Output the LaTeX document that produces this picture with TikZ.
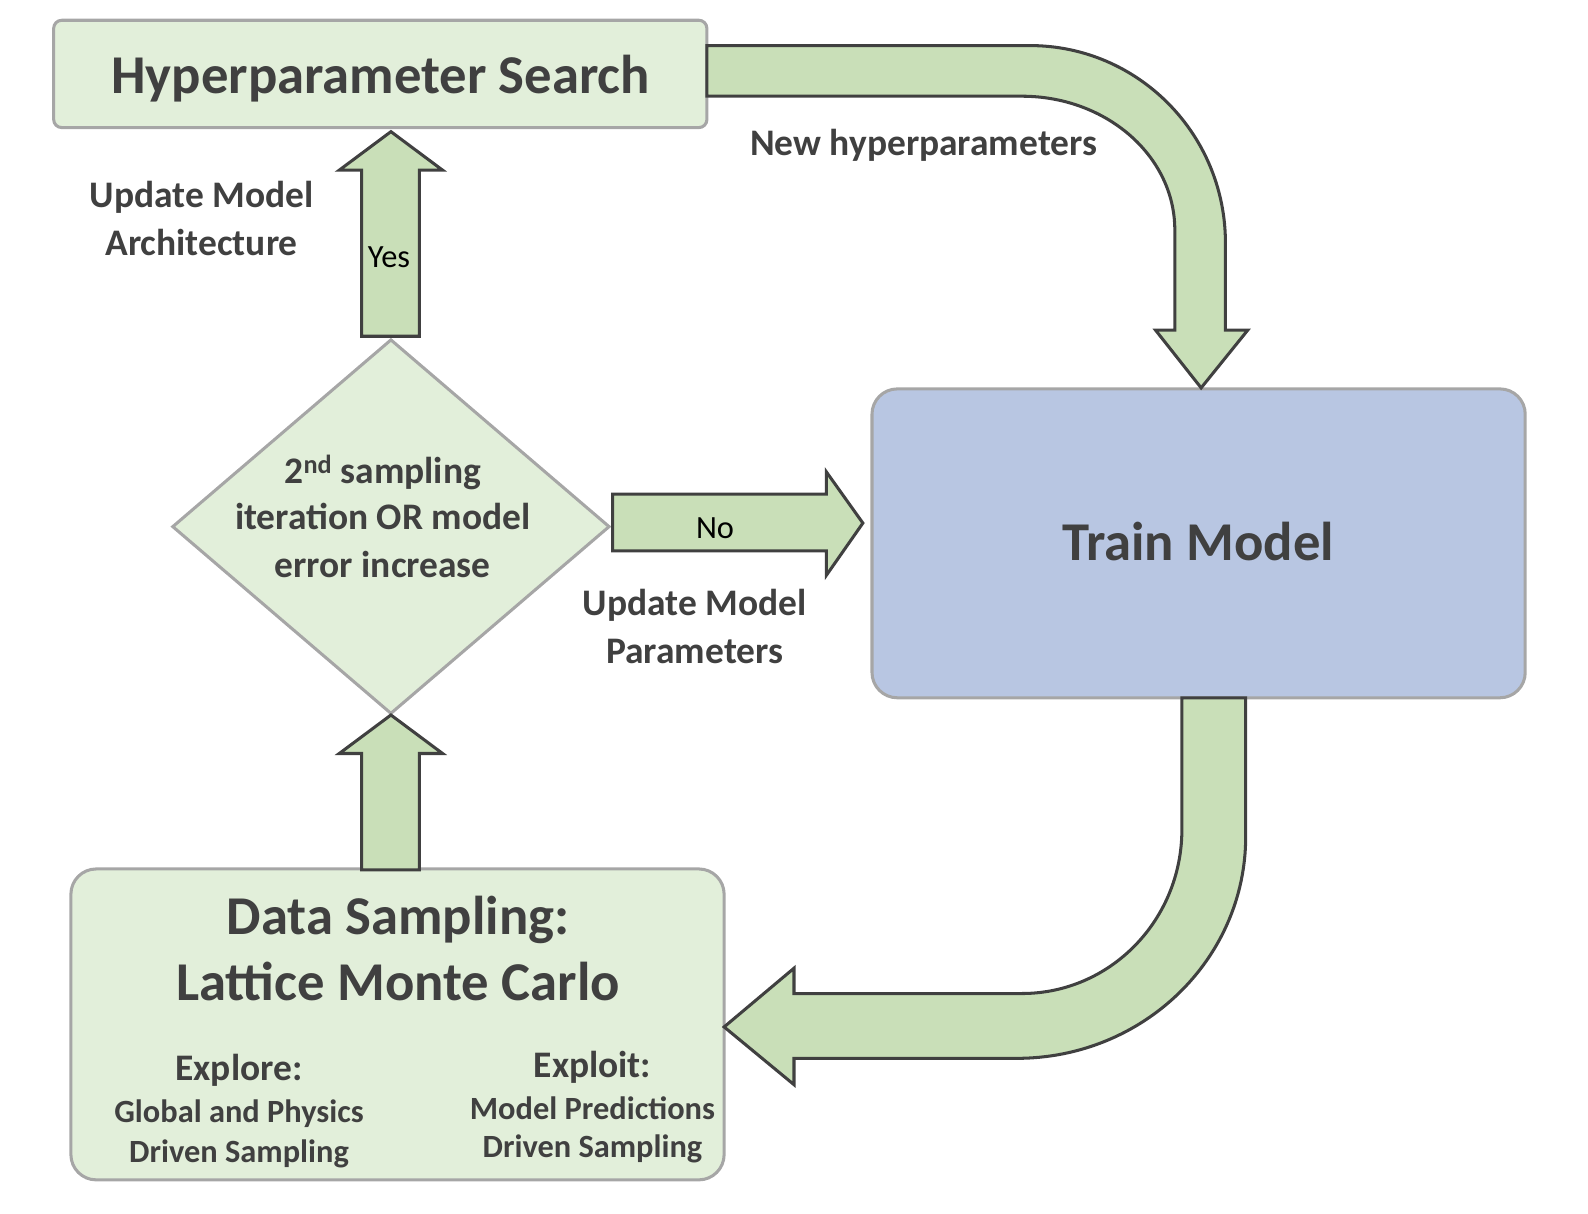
\documentclass[tikz,border=0pt]{standalone}
\usepackage{fontspec}
\setmainfont{Carlito}
\usetikzlibrary{shapes.geometric}
\definecolor{lightg}{RGB}{226,239,218}
\definecolor{arrowg}{RGB}{201,223,184}
\definecolor{bluec}{RGB}{184,198,226}
\definecolor{bordergray}{RGB}{166,166,166}
\definecolor{outlinec}{RGB}{64,64,64}
\definecolor{txtc}{RGB}{64,64,64}
\begin{document}
\begin{tikzpicture}[x=1pt,y=-1pt,
  txt/.style={text=txtc, inner sep=0pt, anchor=base},
  big/.style={txt, font=\fontsize{54}{64}\selectfont\bfseries},
  lab/.style={txt, font=\fontsize{37}{45}\selectfont\bfseries},
  small/.style={txt, font=\fontsize{32}{38}\selectfont\bfseries},
  arrlab/.style={text=black, inner sep=0pt, anchor=base, font=\fontsize{32}{38}\selectfont},
  blockarrow/.style={draw=outlinec, line width=3pt, fill=arrowg, line join=miter},
  greybox/.style={draw=bordergray, line width=3pt, inner sep=0pt}
]
\useasboundingbox (0,0) rectangle (1568,1198);

% boxes
\node[greybox, fill=lightg, rounded corners=8pt, minimum width=645pt, minimum height=106pt] (hyp) at (375.5,73) {};
\node[greybox, fill=bluec, rounded corners=25pt, minimum width=645pt, minimum height=305pt] (train) at (1183.5,536.5) {};
\node[greybox, fill=lightg, rounded corners=25pt, minimum width=645pt, minimum height=307pt] (data) at (392.5,1011.5) {};
\node[greybox, fill=lightg, diamond, minimum width=432pt, minimum height=370pt] (dec) at (386,520) {};

% block arrows
% Yes: decision -> hyperparameter search
\draw[blockarrow] (357,332) -- (357,168) -- (335,168) -- (386,130) -- (437,168) -- (414,168) -- (414,332) -- cycle;
% data sampling -> decision
\draw[blockarrow] (357,859) -- (357,744) -- (335,744) -- (386,706) -- (437,744) -- (414,744) -- (414,859) -- cycle;
% No: decision -> train model
\draw[blockarrow] (605,488) -- (816,488) -- (816,466) -- (852,516.5) -- (816,568) -- (816,544) -- (605,544) -- cycle;
% hyperparameter search -> train model
\draw[blockarrow] (698,45) -- (1017,45) .. controls (1123.6,45) and (1210,132.3) .. (1210,240)
  -- (1210,326) -- (1232,326) -- (1186,383) -- (1141,326) -- (1160,326) -- (1160,227)
  .. controls (1160,154.1) and (1092.4,95) .. (1009,95) -- (698,95) -- cycle;
% train model -> data sampling
\draw[blockarrow] (1167,689) -- (1230,689) -- (1230,826) .. controls (1230,947) and (1128.8,1045) .. (1004,1045)
  -- (784,1045) -- (784,1071) -- (715,1014) -- (784,956) -- (784,981) -- (1009,981)
  .. controls (1096.3,981) and (1167,908.5) .. (1167,819) -- cycle;

% texts
\node[big] (hyptxt) at (376,92) {Hyperparameter Search};
\node[big] (traintxt) at (1183,553) {Train Model};
\node[big] (data1) at (393,923) {Data Sampling:};
\node[big] (data2) at (393,988) {Lattice Monte Carlo};
\node[lab] (explore) at (236,1067) {Explore:};
\node[small] (g1) at (236,1108) {Global and Physics};
\node[small] (g2) at (236,1148) {Driven Sampling};
\node[lab] (exploit) at (585,1064) {Exploit:};
\node[small] (m1) at (585,1105) {Model Predictions};
\node[small] (m2) at (585,1143) {Driven Sampling};
\node[lab] (d1) at (378,477) {2\textsuperscript{nd} sampling};
\node[lab] (d2) at (378,523) {iteration OR model};
\node[lab] (d3) at (378,570) {error increase};
\node[lab] (newhp) at (912,154) {New hyperparameters};
\node[lab] (uma1) at (199,205) {Update Model};
\node[lab] (uma2) at (199,252) {Architecture};
\node[lab] (ump1) at (686,608) {Update Model};
\node[lab] (ump2) at (686,655) {Parameters};
\node[arrlab] (yes) at (384,264) {Yes};
\node[arrlab] (no) at (706,532) {No};
\end{tikzpicture}
\end{document}
